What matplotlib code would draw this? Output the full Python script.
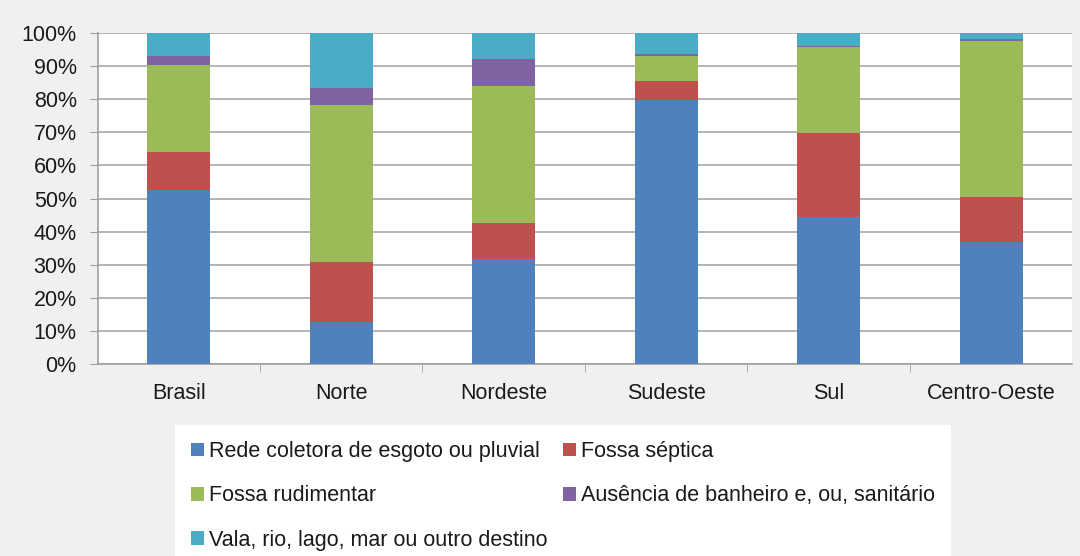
import matplotlib.pyplot as plt
from matplotlib.ticker import PercentFormatter

plt.rcParams['font.family'] = ['Liberation Sans', 'DejaVu Sans']

regioes = ["Brasil", "Norte", "Nordeste", "Sudeste", "Sul", "Centro-Oeste"]

# percentuais por tipo de esgotamento
rede = [52.6, 12.6, 31.7, 79.9, 44.5, 36.8]
septica = [11.5, 18.3, 10.9, 5.6, 25.3, 13.6]
rudimentar = [26.2, 47.3, 41.3, 7.7, 25.9, 47.3]
ausencia = [2.9, 5.1, 8.2, 0.4, 0.5, 0.6]
vala = [6.8, 16.7, 7.9, 6.4, 3.8, 1.7]

series = [
    ("Rede coletora de esgoto ou pluvial", rede, "#4F81BD"),
    ("Fossa séptica", septica, "#C0504D"),
    ("Fossa rudimentar", rudimentar, "#9BBB59"),
    ("Ausência de banheiro e, ou, sanitário", ausencia, "#8064A2"),
    ("Vala, rio, lago, mar ou outro destino", vala, "#4BACC6"),
]

fig = plt.figure(figsize=(10.8, 5.56), dpi=100, facecolor="#f0f0f0")
ax = fig.add_axes([0.0903, 0.3453, 0.9027, 0.5953])
ax.set_facecolor("white")

x = list(range(len(regioes)))
base = [0.0] * len(regioes)
handles = {}
for nome, vals, cor in series:
    b = ax.bar(x, vals, width=0.39, bottom=base, color=cor, label=nome, zorder=3)
    handles[nome] = b
    base = [bb + v for bb, v in zip(base, vals)]

ax.set_xlim(-0.5, len(regioes) - 0.5)
ax.set_ylim(0, 100)
ax.set_yticks(range(0, 101, 10))
ax.yaxis.set_major_formatter(PercentFormatter(decimals=0))
ax.yaxis.grid(True, color="#b4b4b4", linewidth=1.4, zorder=0)
ax.set_xticks(x)
ax.set_xticklabels(regioes)
ax.set_xticks([i + 0.5 for i in range(len(regioes) - 1)], minor=True)
ax.tick_params(axis="x", which="major", length=0, pad=14, labelsize=15.5, labelcolor="#1a1a1a")
ax.tick_params(axis="x", which="minor", length=6, color="#a0a0a0")
ax.tick_params(axis="y", length=6, color="#a0a0a0", labelsize=15.5, pad=9, labelcolor="#1a1a1a")

for s in ["top", "right"]:
    ax.spines[s].set_visible(False)
for s in ["left", "bottom"]:
    ax.spines[s].set_color("#a0a0a0")
    ax.spines[s].set_linewidth(1.2)

ordem = [series[0][0], series[2][0], series[4][0], series[1][0], series[3][0]]
leg = fig.legend([handles[n] for n in ordem], ordem, ncol=2, loc="upper left",
                 bbox_to_anchor=(0.162, 0.2356), fontsize=15.5, frameon=True,
                 fancybox=False, edgecolor="none", facecolor="white", framealpha=1,
                 handlelength=0.6, handleheight=0.6, handletextpad=0.25,
                 labelspacing=1.08, columnspacing=0.7, borderpad=0.75, borderaxespad=0)
for t in leg.get_texts():
    t.set_color("#1a1a1a")

fig.savefig("out.png", dpi=100, facecolor=fig.get_facecolor())
